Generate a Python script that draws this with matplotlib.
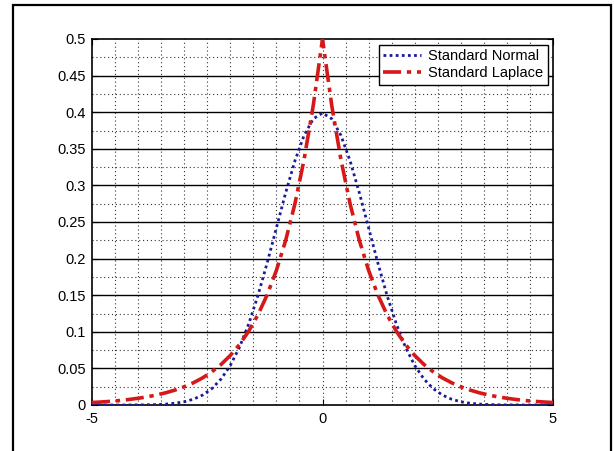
import matplotlib
matplotlib.use("Agg")
import matplotlib.pyplot as plt
from matplotlib.patches import Rectangle

plt.rcParams['font.family'] = ['Liberation Sans', 'DejaVu Sans']

x = [-5.0, -4.8, -4.6, -4.4, -4.2, -4.0, -3.8, -3.6, -3.4, -3.2, -3.0,
     -2.8, -2.6, -2.4, -2.2, -2.0, -1.8, -1.6, -1.4, -1.2, -1.0,
     -0.8, -0.6, -0.4, -0.2, 0.0, 0.2, 0.4, 0.6, 0.8, 1.0,
     1.2, 1.4, 1.6, 1.8, 2.0, 2.2, 2.4, 2.6, 2.8, 3.0,
     3.2, 3.4, 3.6, 3.8, 4.0, 4.2, 4.4, 4.6, 4.8, 5.0]

normal = [0.0000, 0.0000, 0.0000, 0.0000, 0.0001, 0.0001, 0.0003, 0.0006, 0.0012, 0.0024, 0.0044,
          0.0079, 0.0136, 0.0224, 0.0355, 0.0540, 0.0790, 0.1109, 0.1497, 0.1942, 0.2420,
          0.2897, 0.3332, 0.3683, 0.3910, 0.3989, 0.3910, 0.3683, 0.3332, 0.2897, 0.2420,
          0.1942, 0.1497, 0.1109, 0.0790, 0.0540, 0.0355, 0.0224, 0.0136, 0.0079, 0.0044,
          0.0024, 0.0012, 0.0006, 0.0003, 0.0001, 0.0001, 0.0000, 0.0000, 0.0000, 0.0000]

laplace = [0.0034, 0.0041, 0.0050, 0.0061, 0.0075, 0.0092, 0.0112, 0.0137, 0.0167, 0.0204, 0.0249,
           0.0304, 0.0371, 0.0454, 0.0554, 0.0677, 0.0826, 0.1009, 0.1233, 0.1506, 0.1839,
           0.2247, 0.2744, 0.3352, 0.4094, 0.5000, 0.4094, 0.3352, 0.2744, 0.2247, 0.1839,
           0.1506, 0.1233, 0.1009, 0.0826, 0.0677, 0.0554, 0.0454, 0.0371, 0.0304, 0.0249,
           0.0204, 0.0167, 0.0137, 0.0112, 0.0092, 0.0075, 0.0061, 0.0050, 0.0041, 0.0034]

xticks = [-5, 0, 5]
xtick_labels = ['-5', '0', '5']
yticks = [0, 0.05, 0.1, 0.15, 0.2, 0.25, 0.3, 0.35, 0.4, 0.45, 0.5]
ytick_labels = ['0', '0.05', '0.1', '0.15', '0.2', '0.25', '0.3', '0.35', '0.4', '0.45', '0.5']
vgrid = [-4.5, -4, -3.5, -3, -2.5, -2, -1.5, -1, -0.5, 0, 0.5, 1, 1.5, 2, 2.5, 3, 3.5, 4, 4.5]
hminor = [0.025, 0.075, 0.125, 0.175, 0.225, 0.275, 0.325, 0.375, 0.425, 0.475]

fig = plt.figure(figsize=(6.14, 4.51), dpi=100)
fig.patches.append(Rectangle((13/614, -0.05), (611-13)/614, (451-5)/451 + 0.05,
                             transform=fig.transFigure, fill=False,
                             edgecolor='black', linewidth=1.6))
ax = fig.add_axes([92/614, 1 - 405/451, (553-92)/614, (405-39)/451])

for v in vgrid:
    ax.axvline(v, color='#333333', linestyle=(0, (1, 2.5)), linewidth=0.8, zorder=1)
for h in hminor:
    ax.axhline(h, color='#333333', linestyle=(0, (1, 2.5)), linewidth=0.8, zorder=1)
for h in yticks[1:-1]:
    ax.axhline(h, color='black', linestyle='-', linewidth=1.0, zorder=1)

ax.plot(x, normal, color='#1a1a9a', linestyle=(0, (1, 1.2)), linewidth=2.0,
        label='Standard Normal', zorder=3)
ax.plot(x, laplace, color='#d61818', linestyle=(0, (5, 1.6, 1.2, 1.6)), linewidth=2.6,
        label='Standard Laplace', zorder=4)

ax.set_xlim(-5, 5)
ax.set_ylim(0, 0.5)
ax.set_xticks(xticks)
ax.set_xticklabels(xtick_labels)
ax.set_yticks(yticks)
ax.set_yticklabels(ytick_labels)
ax.tick_params(direction='in', length=4, width=0.8, labelsize=10.5, top=True, right=True)
ax.tick_params(axis='y', pad=4.5)
ax.tick_params(axis='x', pad=5)
for s in ax.spines.values():
    s.set_linewidth(1.2)

leg = ax.legend(loc='upper right', bbox_to_anchor=(0.989, 0.984), fontsize=10.5,
                fancybox=False, edgecolor='black', framealpha=1, borderpad=0.3,
                handlelength=2.6, handletextpad=0.5, labelspacing=0.2, borderaxespad=0.0)
leg.get_frame().set_linewidth(1.0)

fig.savefig('out.png', dpi=100)
